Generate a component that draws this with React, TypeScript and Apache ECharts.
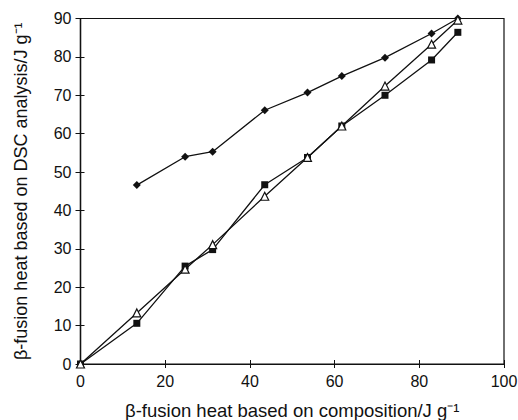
import React, { useEffect, useRef } from "react";
import * as echarts from "echarts";

const diamondX = [13.3, 24.7, 31.2, 43.5, 53.6, 61.7, 71.9, 82.9, 89.1];
const diamondY = [46.6, 54.0, 55.3, 66.1, 70.7, 75.0, 79.8, 86.1, 90.0];

const squareX = [0, 13.3, 24.7, 31.2, 43.5, 53.6, 61.7, 71.9, 82.9, 89.1];
const squareY = [0, 10.6, 25.5, 29.8, 46.7, 53.8, 62.0, 70.0, 79.2, 86.4];

const triangleX = [0, 13.3, 24.7, 31.2, 43.5, 53.6, 61.7, 71.9, 82.9, 89.1];
const triangleY = [0, 13.3, 24.7, 31.1, 43.7, 53.8, 62.0, 72.4, 83.3, 89.6];

const xTicks = [0, 20, 40, 60, 80, 100];
const yTicks = [0, 10, 20, 30, 40, 50, 60, 70, 80, 90];

const xTitle = "β-fusion heat based on composition/J g⁻¹";
const yTitle = "β-fusion heat based on DSC analysis/J g⁻¹";

const zip = (xs: number[], ys: number[]) => xs.map((x, i) => [x, ys[i]]);

export default function App() {
  const ref = useRef<HTMLDivElement>(null);
  useEffect(() => {
    if (!ref.current) return;
    const chart = echarts.init(ref.current, null, { renderer: "svg" });
    const font = "Liberation Sans, Arial, sans-serif";
    const lineCol = "#111";
    const axisLine = { show: true, lineStyle: { color: lineCol, width: 1.2 } };
    const xRange = { type: "value", min: xTicks[0], max: xTicks[xTicks.length - 1], interval: 20 };
    const yRange = { type: "value", min: yTicks[0], max: yTicks[yTicks.length - 1], interval: 10 };
    chart.setOption({
      animation: false,
      backgroundColor: "#fff",
      grid: {
        left: 80.5,
        right: 14,
        top: 18.5,
        bottom: 56,
        containLabel: false,
        outerBoundsMode: "none",
        show: true,
        borderColor: lineCol,
        borderWidth: 1.2,
        backgroundColor: "transparent",
      },
      xAxis: [
        {
          ...xRange,
          name: xTitle,
          nameLocation: "middle",
          nameGap: 37,
          nameTextStyle: { color: "#111", fontSize: 18.5, fontFamily: font },
          axisLine,
          axisTick: { show: true, inside: false, length: 4, lineStyle: { color: lineCol } },
          splitLine: { show: false },
          axisLabel: { color: "#111", fontSize: 16, fontFamily: font, margin: 9 },
        },
        {
          ...xRange,
          position: "bottom",
          axisLine,
          axisTick: { show: true, inside: true, length: 4, lineStyle: { color: lineCol } },
          splitLine: { show: false },
          axisLabel: { show: false },
        },
      ],
      yAxis: [
        {
          ...yRange,
          name: yTitle,
          nameLocation: "middle",
          nameGap: 51,
          nameTextStyle: { color: "#111", fontSize: 18, fontFamily: font },
          axisLine,
          axisTick: { show: true, inside: false, length: 5, lineStyle: { color: lineCol } },
          splitLine: { show: false },
          axisLabel: { color: "#111", fontSize: 16, fontFamily: font, margin: 9 },
        },
        {
          ...yRange,
          position: "left",
          axisLine,
          axisTick: { show: true, inside: true, length: 4, lineStyle: { color: lineCol } },
          splitLine: { show: false },
          axisLabel: { show: false },
        },
      ],
      series: [
        {
          type: "line",
          data: zip(diamondX, diamondY),
          symbol: "diamond",
          symbolSize: 8,
          lineStyle: { color: lineCol, width: 1.3 },
          itemStyle: { color: lineCol },
        },
        {
          type: "line",
          data: zip(squareX, squareY),
          symbol: "rect",
          symbolSize: 7,
          lineStyle: { color: lineCol, width: 1.3 },
          itemStyle: { color: lineCol },
        },
        {
          type: "line",
          data: zip(triangleX, triangleY),
          symbol: "triangle",
          symbolSize: 8,
          lineStyle: { color: lineCol, width: 1.3 },
          itemStyle: { color: "#fff", borderColor: lineCol, borderWidth: 1.2 },
        },
      ],
    });
    return () => chart.dispose();
  }, []);
  return <div ref={ref} style={{ width: 518, height: 420, position: "absolute", left: 0, top: 0 }} />;
}
